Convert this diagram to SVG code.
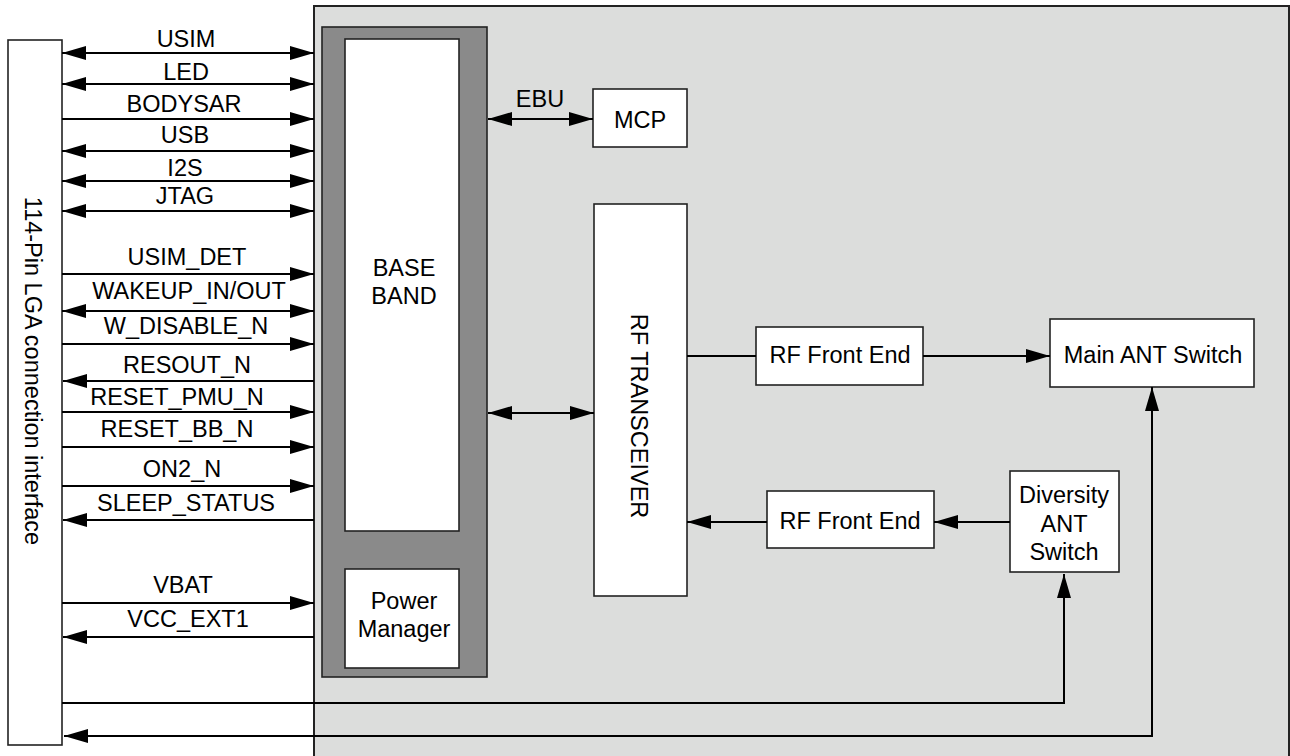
<svg xmlns="http://www.w3.org/2000/svg" width="1290" height="756" viewBox="0 0 1290 756">
<defs>
<style>
text{font-family:"Liberation Sans",Arial,sans-serif;font-size:23.5px;fill:#000;text-anchor:middle}
.box{fill:#fff;stroke:#222;stroke-width:1.6}
.ln{stroke:#000;stroke-width:2;fill:none}
</style>
<marker id="ah" viewBox="0 0 24 14" refX="24" refY="7" markerWidth="24" markerHeight="14" markerUnits="userSpaceOnUse" orient="auto-start-reverse">
<path d="M0,0 L24,7 L0,14 z" fill="#000"/>
</marker>
</defs>
<rect width="1290" height="756" fill="#fff"/>
<g id="module-area"><rect x="314" y="6" width="975" height="760" fill="#dcdddc" stroke="#222" stroke-width="2"/></g>
<g id="lga"><rect class="box" x="8" y="40" width="54" height="705"/>
<text transform="translate(25,371) rotate(90)">114-Pin LGA connection interface</text></g>
<g id="baseband-chip"><rect x="322" y="27" width="165" height="650" fill="#8a8a8a" stroke="#222" stroke-width="1.6"/></g>
<g id="baseband"><rect class="box" x="345" y="39" width="114" height="492"/>
<text x="404" y="276">BASE</text><text x="404" y="304">BAND</text></g>
<g id="power-manager"><rect class="box" x="345" y="569" width="114" height="99"/>
<text x="404" y="609">Power</text><text x="404" y="637">Manager</text></g>
<g id="mcp"><rect class="box" x="593" y="89" width="94" height="58"/><text x="640" y="128">MCP</text></g>
<g id="rf-transceiver"><rect class="box" x="594" y="204" width="93" height="392"/>
<text transform="translate(631,416) rotate(90)">RF TRANSCEIVER</text></g>
<g id="rf-fe-tx"><rect class="box" x="756" y="327" width="167" height="58"/><text x="840" y="363">RF Front End</text></g>
<g id="rf-fe-rx"><rect class="box" x="767" y="491" width="167" height="57"/><text x="850" y="529">RF Front End</text></g>
<g id="main-ant"><rect class="box" x="1050" y="319" width="204" height="68"/><text x="1153" y="363">Main ANT Switch</text></g>
<g id="div-ant"><rect class="box" x="1010" y="471" width="109" height="101"/>
<text x="1064" y="503">Diversity</text><text x="1064" y="532">ANT</text><text x="1064" y="560">Switch</text></g>
<g id="connectors">
<path class="ln" d="M62,53H314" marker-start="url(#ah)" marker-end="url(#ah)"/>
<path class="ln" d="M62,84H314" marker-start="url(#ah)" marker-end="url(#ah)"/>
<path class="ln" d="M62,119H314" marker-end="url(#ah)"/>
<path class="ln" d="M62,151H314" marker-start="url(#ah)" marker-end="url(#ah)"/>
<path class="ln" d="M62,181H314" marker-start="url(#ah)" marker-end="url(#ah)"/>
<path class="ln" d="M62,211H314" marker-start="url(#ah)" marker-end="url(#ah)"/>
<path class="ln" d="M62,274H314" marker-end="url(#ah)"/>
<path class="ln" d="M62,311H314" marker-start="url(#ah)" marker-end="url(#ah)"/>
<path class="ln" d="M62,344H314" marker-end="url(#ah)"/>
<path class="ln" d="M314,381H63" marker-end="url(#ah)"/>
<path class="ln" d="M62,412H314" marker-end="url(#ah)"/>
<path class="ln" d="M62,447H314" marker-end="url(#ah)"/>
<path class="ln" d="M62,486H314" marker-end="url(#ah)"/>
<path class="ln" d="M314,520H63" marker-end="url(#ah)"/>
<path class="ln" d="M62,603H314" marker-end="url(#ah)"/>
<path class="ln" d="M314,637H63" marker-end="url(#ah)"/>
<path class="ln" d="M62,703H1064V574" marker-end="url(#ah)"/>
<path class="ln" d="M1152,387V736H64" marker-start="url(#ah)" marker-end="url(#ah)"/>
<path class="ln" d="M488,119H593" marker-start="url(#ah)" marker-end="url(#ah)"/>
<path class="ln" d="M488,413H594" marker-start="url(#ah)" marker-end="url(#ah)"/>
<path class="ln" d="M687,356H756"/>
<path class="ln" d="M923,356H1050" marker-end="url(#ah)"/>
<path class="ln" d="M1010,522H934" marker-end="url(#ah)"/>
<path class="ln" d="M767,522H687" marker-end="url(#ah)"/>
<text x="186" y="47">USIM</text>
<text x="186" y="80">LED</text>
<text x="184" y="112">BODYSAR</text>
<text x="185" y="143">USB</text>
<text x="185" y="176">I2S</text>
<text x="185" y="204">JTAG</text>
<text x="187" y="265">USIM_DET</text>
<text x="189" y="299">WAKEUP_IN/OUT</text>
<text x="186" y="334">W_DISABLE_N</text>
<text x="187" y="373">RESOUT_N</text>
<text x="177" y="405">RESET_PMU_N</text>
<text x="177" y="437">RESET_BB_N</text>
<text x="182" y="477">ON2_N</text>
<text x="186" y="511">SLEEP_STATUS</text>
<text x="183" y="593">VBAT</text>
<text x="188" y="627">VCC_EXT1</text>
<text x="540" y="107">EBU</text>
</g>
</svg>
